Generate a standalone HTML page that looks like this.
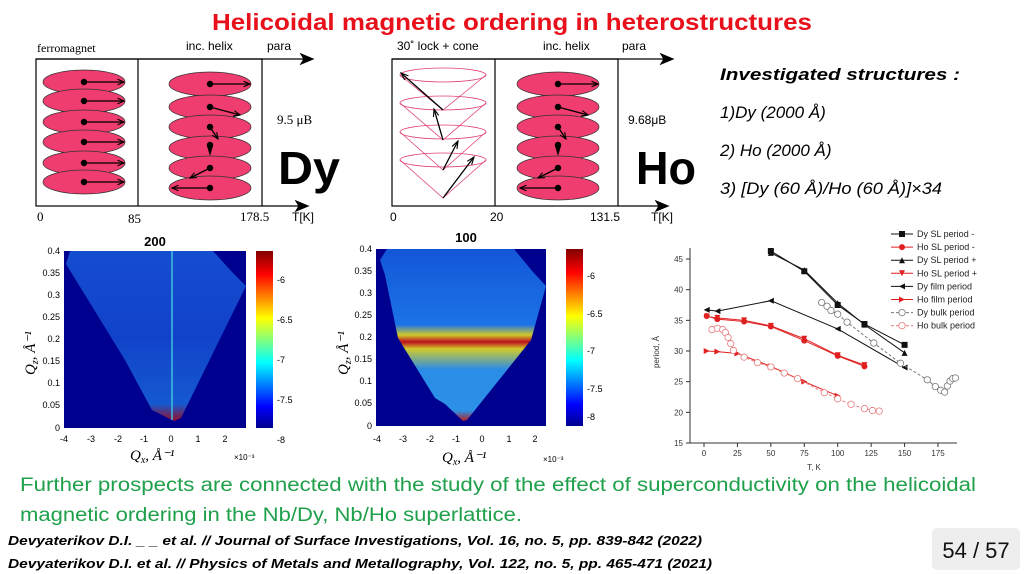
<!DOCTYPE html>
<html><head><meta charset="utf-8"><style>
html,body{margin:0;padding:0;background:#fff;}
svg{display:block;font-family:"Liberation Sans",sans-serif;}
</style></head><body>
<svg id="slide" width="1024" height="574" viewBox="0 0 1024 574">
<defs>
<linearGradient id="jet" x1="0" y1="1" x2="0" y2="0">
<stop offset="0" stop-color="#00008f"/><stop offset="0.12" stop-color="#0000ff"/><stop offset="0.37" stop-color="#00ffff"/><stop offset="0.62" stop-color="#ffff00"/><stop offset="0.87" stop-color="#ff0000"/><stop offset="1" stop-color="#800000"/>
</linearGradient>
<linearGradient id="wedgeL" x1="0" y1="1" x2="0" y2="0">
<stop offset="0" stop-color="#c01010"/><stop offset="0.1" stop-color="#1a6fe0"/><stop offset="0.5" stop-color="#1553d8"/><stop offset="1" stop-color="#1a60e0"/>
</linearGradient>
<linearGradient id="wedgeR" x1="0" y1="1" x2="0" y2="0">
<stop offset="0" stop-color="#d02010"/><stop offset="0.06" stop-color="#30a0f0"/><stop offset="0.3" stop-color="#2f9cf0"/><stop offset="0.42" stop-color="#e8e020"/><stop offset="0.46" stop-color="#d01010"/><stop offset="0.5" stop-color="#e8e020"/><stop offset="0.56" stop-color="#1f7ff0"/><stop offset="1" stop-color="#1560e0"/>
</linearGradient>
</defs>

<text x="512" y="30" text-anchor="middle" font-size="23" font-weight="bold" fill="#e8101a" textLength="600" lengthAdjust="spacingAndGlyphs">Helicoidal magnetic ordering in heterostructures</text>

<!-- Dy diagram -->
<g stroke="#000" fill="none" stroke-width="1.2">
<text x="37" y="52" font-family="Liberation Serif" font-size="12" stroke="none" fill="#000">ferromagnet</text>
<text x="186" y="50" font-size="12" stroke="none" fill="#000">inc. helix</text>
<text x="267" y="50" font-size="12" stroke="none" fill="#000">para</text>
<line x1="36" y1="59" x2="310" y2="59"/><polygon points="313,59 301,54 304,59 301,64" fill="#000"/>
<rect x="36" y="59" width="226" height="147"/>
<line x1="138" y1="59" x2="138" y2="206"/>
<line x1="262" y1="206" x2="305" y2="206"/><polygon points="308,206 296,201 299,206 296,211" fill="#000"/>
<text x="37" y="221" font-family="Liberation Serif" font-size="13" stroke="none" fill="#000">0</text>
<text x="128" y="223" font-family="Liberation Serif" font-size="13" stroke="none" fill="#000">85</text>
<text x="240" y="221" font-family="Liberation Serif" font-size="13" stroke="none" fill="#000">178.5</text>
<text x="292" y="221" font-size="12" stroke="none" fill="#000">T[K]</text>
<text x="277" y="124" font-family="Liberation Serif" font-size="13" stroke="none" fill="#000">9.5 μB</text>
</g>
<text x="278" y="184" font-size="46" font-weight="bold" fill="#000" textLength="62" lengthAdjust="spacingAndGlyphs">Dy</text>

<!-- Ho diagram -->
<g stroke="#000" fill="none" stroke-width="1.2">
<text x="397" y="50" font-size="12" stroke="none" fill="#000">30˚ lock + cone</text>
<text x="543" y="50" font-size="12" stroke="none" fill="#000">inc. helix</text>
<text x="622" y="50" font-size="12" stroke="none" fill="#000">para</text>
<line x1="392" y1="59" x2="670" y2="59"/><polygon points="673,59 661,54 664,59 661,64" fill="#000"/>
<rect x="392" y="59" width="226" height="147"/>
<line x1="495" y1="59" x2="495" y2="206"/>
<line x1="618" y1="206" x2="665" y2="206"/><polygon points="668,206 656,201 659,206 656,211" fill="#000"/>
<text x="390" y="221" font-size="12" stroke="none" fill="#000">0</text>
<text x="490" y="221" font-size="12" stroke="none" fill="#000">20</text>
<text x="590" y="221" font-size="12" stroke="none" fill="#000">131.5</text>
<text x="651" y="221" font-size="12" stroke="none" fill="#000">T[K]</text>
<text x="628" y="124" font-size="12" stroke="none" fill="#000">9.68μB</text>
</g>
<text x="636" y="184" font-size="46" font-weight="bold" fill="#000" textLength="60" lengthAdjust="spacingAndGlyphs">Ho</text>
<g id="spins"></g>

<!-- Investigated structures -->
<g font-size="17" font-style="italic" fill="#000">
<text x="720" y="80" font-weight="bold" textLength="240" lengthAdjust="spacingAndGlyphs">Investigated structures :</text>
<text x="720" y="118">1)Dy (2000 Å)</text>
<text x="720" y="156">2) Ho (2000 Å)</text>
<text x="720" y="194" textLength="222" lengthAdjust="spacingAndGlyphs">3) [Dy (60 Å)/Ho (60 Å)]×34</text>
</g>

<!-- Heatmap left -->
<g font-size="9" fill="#000">
<text x="155" y="246" text-anchor="middle" font-size="13" font-weight="bold">200</text>
<rect x="64" y="251" width="182" height="177" fill="#00008f"/>
<polygon points="66,264 70,251 213,251 232,272 246,286 181,418 174,421 152,410 125,360" fill="url(#wedgeL)" opacity="0.8"/>
<line x1="172" y1="251" x2="172" y2="420" stroke="#40c0e0" stroke-width="1.5"/>
<rect x="256" y="251" width="17" height="177" fill="url(#jet)"/>
<g font-size="9"><text x="277" y="283">-6</text><text x="277" y="323">-6.5</text><text x="277" y="363">-7</text><text x="277" y="403">-7.5</text><text x="277" y="443">-8</text></g>
<g text-anchor="end"><text x="60" y="254">0.4</text><text x="60" y="276">0.35</text><text x="60" y="298">0.3</text><text x="60" y="320">0.25</text><text x="60" y="342">0.2</text><text x="60" y="364">0.15</text><text x="60" y="386">0.1</text><text x="60" y="408">0.05</text><text x="60" y="431">0</text></g>
<g text-anchor="middle"><text x="64" y="442">-4</text><text x="91" y="442">-3</text><text x="118" y="442">-2</text><text x="144" y="442">-1</text><text x="171" y="442">0</text><text x="198" y="442">1</text><text x="225" y="442">2</text></g>
<text x="130" y="460" font-family="Liberation Serif" font-style="italic" font-size="15">Q<tspan font-size="10" dy="3">x</tspan><tspan dy="-3">, Å⁻¹</tspan></text>
<text x="234" y="460" font-size="8">×10⁻³</text>
<text transform="translate(35,375) rotate(-90)" font-family="Liberation Serif" font-style="italic" font-size="15">Q<tspan font-size="10" dy="3">z</tspan><tspan dy="-3">, Å⁻¹</tspan></text>
</g>

<!-- Heatmap right -->
<g font-size="9" fill="#000">
<text x="466" y="242" text-anchor="middle" font-size="13" font-weight="bold">100</text>
<rect x="376" y="249" width="170" height="177" fill="#00008f"/>
<polygon points="380,260 387,249 514,249 533,272 546,286 531,340 467,420 463,421 445,404 435,398 398,338 385,275" fill="url(#wedgeR)" opacity="0.9"/>
<rect x="566" y="249" width="17" height="177" fill="url(#jet)"/>
<g font-size="9"><text x="587" y="279">-6</text><text x="587" y="317">-6.5</text><text x="587" y="354">-7</text><text x="587" y="392">-7.5</text><text x="587" y="420">-8</text></g>
<g text-anchor="end"><text x="372" y="252">0.4</text><text x="372" y="274">0.35</text><text x="372" y="296">0.3</text><text x="372" y="318">0.25</text><text x="372" y="340">0.2</text><text x="372" y="362">0.15</text><text x="372" y="384">0.1</text><text x="372" y="406">0.05</text><text x="372" y="429">0</text></g>
<g text-anchor="middle"><text x="377" y="442">-4</text><text x="403" y="442">-3</text><text x="430" y="442">-2</text><text x="456" y="442">-1</text><text x="482" y="442">0</text><text x="509" y="442">1</text><text x="535" y="442">2</text></g>
<text x="442" y="462" font-family="Liberation Serif" font-style="italic" font-size="15">Q<tspan font-size="10" dy="3">x</tspan><tspan dy="-3">, Å⁻¹</tspan></text>
<text x="543" y="462" font-size="8">×10⁻³</text>
<text transform="translate(348,375) rotate(-90)" font-family="Liberation Serif" font-style="italic" font-size="15">Q<tspan font-size="10" dy="3">z</tspan><tspan dy="-3">, Å⁻¹</tspan></text>
</g>

<!-- Line chart -->
<g id="chart" font-size="8" fill="#333"></g>

<!-- Bottom text -->
<g fill="#1fa04a" font-size="19">
<text x="20" y="491" textLength="956" lengthAdjust="spacingAndGlyphs">Further prospects are connected with the study of the effect of superconductivity on the helicoidal</text>
<text x="20" y="521" textLength="502" lengthAdjust="spacingAndGlyphs">magnetic ordering in the Nb/Dy, Nb/Ho superlattice.</text>
</g>
<g font-size="13" font-style="italic" font-weight="bold" fill="#000">
<text x="8" y="545" textLength="694" lengthAdjust="spacingAndGlyphs">Devyaterikov D.I. _ _ et al. // Journal of Surface Investigations, Vol. 16, no. 5, pp. 839-842 (2022)</text>
<text x="8" y="568" textLength="704" lengthAdjust="spacingAndGlyphs">Devyaterikov D.I. et al. // Physics of Metals and Metallography, Vol. 122, no. 5, pp. 465-471 (2021)</text>
</g>
<rect x="932" y="528" width="88" height="42" rx="5" fill="#eeeeee"/>
<text x="976" y="558" text-anchor="middle" font-size="22" fill="#111">54 / 57</text>
</svg>
<script>
// ---- chart data ----
const xTicks = [0,25,50,75,100,125,150,175];
const yTicks = [15,20,25,30,35,40,45];
const seriesNames = ["Dy SL period -","Ho SL period -","Dy SL period +","Ho SL period +","Dy film period","Ho film period","Dy bulk period","Ho bulk period"];
const dySLminusT = [50,75,100,120,150];
const dySLminusP = [46.3,43.0,37.5,34.4,31.0];
const hoSLminusT = [2,10,30,50,75,100,120];
const hoSLminusP = [35.7,35.2,34.8,34.0,31.7,29.2,27.5];
const dySLplusT = [50,75,100,120,150];
const dySLplusP = [46.0,43.2,37.8,34.3,29.7];
const hoSLplusT = [2,10,30,50,75,100,120];
const hoSLplusP = [35.6,35.4,35.0,34.1,32.0,29.3,27.7];
const dyFilmT = [2,10,50,100,150];
const dyFilmP = [36.7,36.5,38.2,33.6,27.3];
const hoFilmT = [2,10,25,50,75,100];
const hoFilmP = [30.0,29.9,29.6,27.5,25.0,22.7];
const dyBulkT = [88,92,95,100,107,127,147,167,173,177,180,182,184,186,188];
const dyBulkP = [37.9,37.3,36.6,36.0,34.7,31.3,28.0,25.3,24.2,23.6,23.3,24.3,25.1,25.5,25.6];
const hoBulkT = [6,10,14,16,18,20,22,30,40,50,60,70,90,100,110,120,126,131];
const hoBulkP = [33.5,33.7,33.5,33.0,32.2,31.2,30.1,29.0,28.1,27.4,26.4,25.5,23.2,22.2,21.3,20.6,20.3,20.2];

const NS = "http://www.w3.org/2000/svg";
const chart = document.getElementById("chart");
const X = t => 704 + t * (234/175);
const Y = p => 443 - (p - 15) * (184/30);
function mk(tag, attrs, parent){const e=document.createElementNS(NS,tag);for(const k in attrs)e.setAttribute(k,attrs[k]);(parent||chart).appendChild(e);return e;}

const ax = mk("path",{d:`M690 248 V443 H957`,stroke:"#333",fill:"none","stroke-width":"1"});


xTicks.forEach(t=>{
  mk("line",{x1:X(t),y1:443,x2:X(t),y2:447,stroke:"#333"});
  const tx = mk("text",{x:X(t),y:456,"text-anchor":"middle"});
  tx.textContent = t;
  
  
});
yTicks.forEach(p=>{
  mk("line",{x1:686,y1:Y(p),x2:690,y2:Y(p),stroke:"#333"});
  const tx = mk("text",{x:683,y:Y(p)+3,"text-anchor":"end"});
  tx.textContent = p;
  
  
});
const xl = mk("text",{x:814,y:470,"text-anchor":"middle"}); xl.textContent="T, K";


const yl = mk("text",{transform:"translate(659,352) rotate(-90)","text-anchor":"middle"}); yl.textContent="period, Å";



function marker(g, type, x, y, col){
  const s=3;
  if(type==="sq") mk("rect",{x:x-s,y:y-s,width:2*s,height:2*s,fill:col},g);
  else if(type==="ci") mk("circle",{cx:x,cy:y,r:s,fill:col},g);
  else if(type==="up") mk("polygon",{points:`${x},${y-s} ${x-s},${y+s} ${x+s},${y+s}`,fill:col},g);
  else if(type==="dn") mk("polygon",{points:`${x},${y+s} ${x-s},${y-s} ${x+s},${y-s}`,fill:col},g);
  else if(type==="lt") mk("polygon",{points:`${x-s},${y} ${x+s},${y-s} ${x+s},${y+s}`,fill:col},g);
  else if(type==="rt") mk("polygon",{points:`${x+s},${y} ${x-s},${y-s} ${x-s},${y+s}`,fill:col},g);
  else if(type==="oc") mk("circle",{cx:x,cy:y,r:3.2,fill:"#fff",stroke:col,"stroke-width":"0.8"},g);
}
const defs = [
  [dySLminusT,dySLminusP,"#111","sq",false],
  [hoSLminusT,hoSLminusP,"#e02020","ci",false],
  [dySLplusT,dySLplusP,"#111","up",false],
  [hoSLplusT,hoSLplusP,"#e02020","dn",false],
  [dyFilmT,dyFilmP,"#111","lt",false],
  [hoFilmT,hoFilmP,"#e02020","rt",false],
  [dyBulkT,dyBulkP,"#777","oc",true],
  [hoBulkT,hoBulkP,"#e87a7a","oc",true]
];
defs.forEach((d,i)=>{
  const [ts,ps,col,m,dash]=d;
  const g = mk("g",{});
  
  
  const pts = ts.map((t,j)=>X(t)+","+Y(ps[j])).join(" ");
  mk("polyline",{points:pts,fill:"none",stroke:col,"stroke-width":"1","stroke-dasharray":dash?"3,2":"none"},g);
  ts.forEach((t,j)=>marker(g,m,X(t),Y(ps[j]),col));
  const ly = 234 + i*13.1;
  const lg = mk("g",{});
  
  
  mk("line",{x1:891,y1:ly,x2:913,y2:ly,stroke:col,"stroke-dasharray":dash?"3,2":"none"},lg);
  marker(lg,m,902,ly,col);
  const lt = mk("text",{x:917,y:ly+3,"font-size":"9",fill:"#222"},lg);
  lt.textContent = seriesNames[i];
});

// spin illustrations
const sp = document.getElementById("spins");
function ell(cx, cy){ mk("ellipse",{cx:cx,cy:cy,rx:41,ry:12,fill:"#ee3d6e",stroke:"#333","stroke-width":"0.7"},sp); }
function arrow(x1,y1,x2,y2){
  mk("line",{x1:x1,y1:y1,x2:x2,y2:y2,stroke:"#000","stroke-width":"1.3"},sp);
  mk("circle",{cx:x1,cy:y1,r:3.2,fill:"#000"},sp);
  const a=Math.atan2(y2-y1,x2-x1), L=7;
  mk("polyline",{points:`${x2-L*Math.cos(a-0.4)},${y2-L*Math.sin(a-0.4)} ${x2},${y2} ${x2-L*Math.cos(a+0.4)},${y2-L*Math.sin(a+0.4)}`,fill:"none",stroke:"#000","stroke-width":"1.1"},sp);
}
const fmY=[82,101,122,142,163,182];
fmY.forEach(y=>ell(84,y));
fmY.forEach(y=>arrow(84,y,124,y));
const hxY=[84,107,127,148,168,188];
const dirs=[[40,0],[30,8],[8,12],[0,14],[-20,10],[-38,0]];
[210,558].forEach(cx=>{
  hxY.forEach(y=>ell(cx,y));
  hxY.forEach((y,k)=>{ if(k===3){ mk("circle",{cx:cx,cy:y-3,r:3.2,fill:"#000"},sp); mk("polygon",{points:`${cx-3},${y-2} ${cx+3},${y-2} ${cx},${y+8}`,fill:"#000"},sp);} else arrow(cx,y,cx+dirs[k][0],y+dirs[k][1]); });
});
// cones
const rims=[75,103,132,160], apex=[110,140,170,198];
rims.forEach((r,k)=>{
  mk("ellipse",{cx:443,cy:r,rx:43,ry:7,fill:"none",stroke:"#e04070","stroke-width":"0.8"},sp);
  mk("polyline",{points:`400,${r} 443,${apex[k]} 486,${r}`,fill:"none",stroke:"#e04070","stroke-width":"0.8"},sp);
});
[[443,110,401,73],[443,140,434,109],[443,170,458,141],[443,198,474,157]].forEach(a=>{
  mk("line",{x1:a[0],y1:a[1],x2:a[2],y2:a[3],stroke:"#000","stroke-width":"1.3"},sp);
  const ang=Math.atan2(a[3]-a[1],a[2]-a[0]),L=8;
  mk("polyline",{points:`${a[2]-L*Math.cos(ang-0.35)},${a[3]-L*Math.sin(ang-0.35)} ${a[2]},${a[3]} ${a[2]-L*Math.cos(ang+0.35)},${a[3]-L*Math.sin(ang+0.35)}`,fill:"none",stroke:"#000","stroke-width":"1.1"},sp);
});
</script>
</body></html>
